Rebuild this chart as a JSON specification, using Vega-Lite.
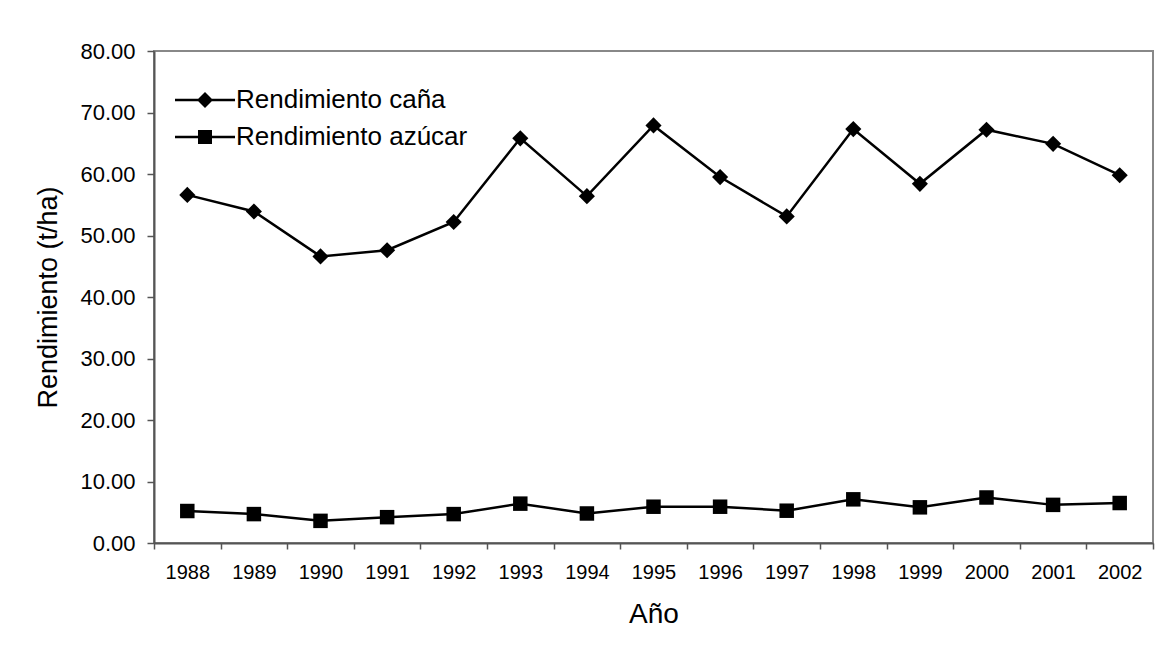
{
  "$schema": "https://vega.github.io/schema/vega-lite/v6.json",
  "width": 999,
  "height": 492,
  "autosize": {"type": "none"},
  "padding": {"left": 154, "top": 51, "right": 8, "bottom": 111},
  "background": "white",
  "config": {
    "font": "Liberation Sans",
    "view": {"stroke": "#888888", "strokeWidth": 2},
    "axis": {"grid": false},
    "legend": {"rowPadding": 4}
  },
  "data": {
    "values": [
      {"year": "1988", "series": "Rendimiento caña", "value": 56.6},
      {"year": "1989", "series": "Rendimiento caña", "value": 53.9},
      {"year": "1990", "series": "Rendimiento caña", "value": 46.6},
      {"year": "1991", "series": "Rendimiento caña", "value": 47.6},
      {"year": "1992", "series": "Rendimiento caña", "value": 52.2},
      {"year": "1993", "series": "Rendimiento caña", "value": 65.8},
      {"year": "1994", "series": "Rendimiento caña", "value": 56.4},
      {"year": "1995", "series": "Rendimiento caña", "value": 67.9},
      {"year": "1996", "series": "Rendimiento caña", "value": 59.5},
      {"year": "1997", "series": "Rendimiento caña", "value": 53.1},
      {"year": "1998", "series": "Rendimiento caña", "value": 67.3},
      {"year": "1999", "series": "Rendimiento caña", "value": 58.4},
      {"year": "2000", "series": "Rendimiento caña", "value": 67.2},
      {"year": "2001", "series": "Rendimiento caña", "value": 64.9},
      {"year": "2002", "series": "Rendimiento caña", "value": 59.8},
      {"year": "1988", "series": "Rendimiento azúcar", "value": 5.2},
      {"year": "1989", "series": "Rendimiento azúcar", "value": 4.7},
      {"year": "1990", "series": "Rendimiento azúcar", "value": 3.6},
      {"year": "1991", "series": "Rendimiento azúcar", "value": 4.2},
      {"year": "1992", "series": "Rendimiento azúcar", "value": 4.7},
      {"year": "1993", "series": "Rendimiento azúcar", "value": 6.4},
      {"year": "1994", "series": "Rendimiento azúcar", "value": 4.8},
      {"year": "1995", "series": "Rendimiento azúcar", "value": 5.9},
      {"year": "1996", "series": "Rendimiento azúcar", "value": 5.9},
      {"year": "1997", "series": "Rendimiento azúcar", "value": 5.25},
      {"year": "1998", "series": "Rendimiento azúcar", "value": 7.1},
      {"year": "1999", "series": "Rendimiento azúcar", "value": 5.8},
      {"year": "2000", "series": "Rendimiento azúcar", "value": 7.4},
      {"year": "2001", "series": "Rendimiento azúcar", "value": 6.2},
      {"year": "2002", "series": "Rendimiento azúcar", "value": 6.5}
    ]
  },
  "encoding": {
    "x": {
      "field": "year",
      "type": "ordinal",
      "scale": {"paddingInner": 0, "paddingOuter": 0},
      "axis": {
        "title": "Año",
        "titleFontSize": 28,
        "titleFontWeight": "normal",
        "titleColor": "black",
        "titlePadding": 18,
        "labelFontSize": 20,
        "labelColor": "black",
        "labelAngle": 0,
        "labelPadding": 13,
        "tickBand": "extent",
        "tickSize": 6,
        "tickWidth": 1.5,
        "tickColor": "#555555",
        "domainColor": "#555555",
        "domainWidth": 2
      }
    },
    "y": {
      "field": "value",
      "type": "quantitative",
      "scale": {"domain": [0, 80], "nice": false},
      "axis": {
        "title": "Rendimiento (t/ha)",
        "titleFontSize": 27,
        "titleFontWeight": "normal",
        "titleColor": "black",
        "titlePadding": 17,
        "values": [0, 10, 20, 30, 40, 50, 60, 70, 80],
        "format": ".2f",
        "labelFontSize": 22,
        "labelColor": "black",
        "labelPadding": 12,
        "tickSize": 7,
        "tickWidth": 1.5,
        "tickColor": "#555555",
        "domainColor": "#555555",
        "domainWidth": 2
      }
    }
  },
  "resolve": {"scale": {"shape": "independent", "size": "independent"}, "legend": {"shape": "independent"}},
  "layer": [
    {
      "mark": {"type": "line", "strokeWidth": 2.5, "color": "black"},
      "encoding": {
        "detail": {"field": "series", "type": "nominal"}
      }
    },
    {
      "mark": {"type": "point", "filled": true, "opacity": 1, "color": "black"},
      "encoding": {
        "shape": {
          "field": "series",
          "type": "nominal",
          "scale": {"domain": ["Rendimiento caña", "Rendimiento azúcar"], "range": ["diamond", "square"]},
          "legend": null
        },
        "size": {
          "field": "series",
          "type": "nominal",
          "scale": {"domain": ["Rendimiento caña", "Rendimiento azúcar"], "range": [260, 210]},
          "legend": null
        }
      }
    },
    {
      "mark": {"type": "point", "filled": true, "opacity": 0, "color": "black"},
      "encoding": {
        "shape": {
          "field": "series",
          "type": "nominal",
          "scale": {
            "domain": ["Rendimiento caña", "Rendimiento azúcar"],
            "range": [
              "M-1.5,-0.0625H1.5V0.0625H-1.5ZM0,-0.4L0.4,0L0,0.4L-0.4,0Z",
              "M-1.5,-0.0625H1.5V0.0625H-1.5ZM-0.35,-0.35H0.35V0.35H-0.35Z"
            ]
          },
          "legend": {
            "orient": "none",
            "legendX": 31,
            "legendY": 29,
            "title": null,
            "labelFontSize": 26,
            "labelColor": "black",
            "labelOffset": 11,
            "labelLimit": 500,
            "symbolSize": 1600,
            "symbolOpacity": 1,
            "symbolFillColor": "black",
            "symbolStrokeWidth": 0,
            "rowPadding": 4
          }
        }
      }
    }
  ]
}
